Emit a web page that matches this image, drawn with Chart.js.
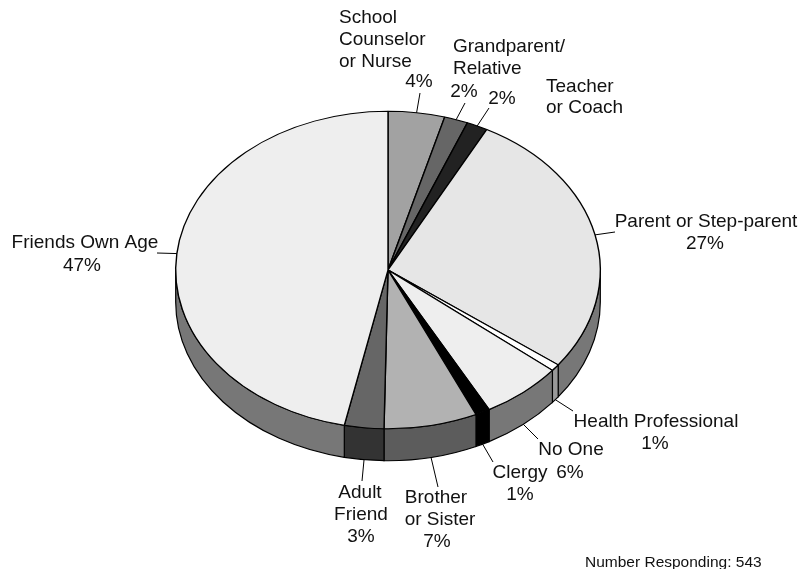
<!DOCTYPE html>
<html lang="en">
  <head>
    <meta charset="UTF-8">
    <title>Number Responding</title>
    <style>
      html, body { margin: 0; background: #fff; }
      canvas { display: block; }
    </style>
  </head>
  <body>
    <canvas id="pie" width="803" height="569"></canvas>
    <script src="https://cdn.jsdelivr.net/npm/chart.js@4"></script>
    <script>
      const categories = ['School Counselor or Nurse', 'Grandparent/ Relative', 'Teacher or Coach', 'Parent or Step-parent',
        'Health Professional', 'No One', 'Clergy', 'Brother or Sister', 'Adult Friend', 'Friends Own Age'];
      const shares = [4.3, 1.8, 1.6, 27.5, 0.7, 6.2, 1.1, 7.1, 3.0, 46.7];
      const percents = ['4%', '2%', '2%', '27%', '1%', '6%', '1%', '7%', '3%', '47%'];
      const topColors = ['#a2a2a2', '#666666', '#222222', '#e6e6e6', '#ffffff', '#eeeeee', '#000000', '#b2b2b2', '#666666', '#eeeeee'];
      const sideColors = ['#515151', '#333333', '#111111', '#777777', '#999999', '#777777', '#000000', '#5c5c5c', '#333333', '#777777'];
      const note = 'Number Responding: 543';

      // text lines per slice: [text, x, baseline, align]
      const labelLines = [
        [['School', 339, 23, 'left'], ['Counselor', 339, 45, 'left'], ['or Nurse', 339, 67, 'left'], [percents[0], 419, 87, 'center']],
        [['Grandparent/', 453, 52, 'left'], ['Relative', 453, 74, 'left'], [percents[1], 464, 97, 'center']],
        [['Teacher', 546, 92, 'left'], ['or Coach', 546, 113, 'left'], [percents[2], 502, 104, 'center']],
        [['Parent or Step-parent', 706, 227, 'center'], [percents[3], 705, 249, 'center']],
        [['Health Professional', 656, 427, 'center'], [percents[4], 655, 449, 'center']],
        [['No One', 571, 455, 'center'], [percents[5], 570, 478, 'center']],
        [['Clergy', 520, 478, 'center'], [percents[6], 520, 500, 'center']],
        [['Brother', 436, 503, 'center'], ['or Sister', 440, 525, 'center'], [percents[7], 437, 547, 'center']],
        [['Adult', 360, 498, 'center'], ['Friend', 361, 520, 'center'], [percents[8], 361, 542, 'center']],
        [['Friends Own Age', 85, 248, 'center'], [percents[9], 82, 271, 'center']]
      ];
      const leaderEnds = [[420, 93], [465, 103], [489, 108], [615, 232], [573, 411], [538, 439], [493, 462], [438, 487], [362, 481], [157, 253]];

      const squash = 158.5 / 212; // top of the pie is viewed at an angle
      const depth = 32;
      const labelFont = '19px "Liberation Sans", Arial, sans-serif';

      const pie3d = {
        id: 'pie3d',
        beforeDatasetsDraw(chart) {
          const ctx = chart.ctx;
          const arcs = chart.getDatasetMeta(0).data;
          const cx = arcs[0].x, cy = arcs[0].y;
          const r = arcs[0].outerRadius, ry = r * squash;

          // the wall, only the front half of the ellipse can be seen
          arcs.forEach((arc, i) => {
            const a = Math.max(arc.startAngle, 0);
            const b = Math.min(arc.endAngle, Math.PI);
            if (b <= a) return;
            ctx.beginPath();
            ctx.ellipse(cx, cy, r, ry, 0, a, b);
            ctx.ellipse(cx, cy + depth, r, ry, 0, b, a, true);
            ctx.closePath();
            ctx.fillStyle = sideColors[i];
            ctx.fill();
            ctx.strokeStyle = '#000';
            ctx.lineWidth = 1.2;
            ctx.stroke();
          });

          ctx.save();
          ctx.translate(cx, cy);
          ctx.scale(1, squash);
          ctx.translate(-cx, -cy);
        },
        afterDatasetsDraw(chart) {
          const ctx = chart.ctx;
          ctx.restore();

          const arcs = chart.getDatasetMeta(0).data;
          const cx = arcs[0].x, cy = arcs[0].y;
          const r = arcs[0].outerRadius, ry = r * squash;

          ctx.strokeStyle = '#000';
          ctx.lineWidth = 1;
          arcs.forEach((arc, i) => {
            const mid = (arc.startAngle + arc.endAngle) / 2;
            const sy = cy + ry * Math.sin(mid) + (Math.sin(mid) > 0 ? depth : 0);
            ctx.beginPath();
            ctx.moveTo(cx + r * Math.cos(mid), sy);
            ctx.lineTo(leaderEnds[i][0], leaderEnds[i][1]);
            ctx.stroke();
          });

          ctx.fillStyle = '#111';
          ctx.font = labelFont;
          ctx.textBaseline = 'alphabetic';
          labelLines.forEach(lines => lines.forEach(([text, x, y, align]) => {
            ctx.textAlign = align;
            ctx.fillText(text, x, y);
          }));

          ctx.font = '15.5px "Liberation Sans", Arial, sans-serif';
          ctx.textAlign = 'left';
          ctx.fillText(note, 585, 567);
        }
      };

      new Chart(document.getElementById('pie'), {
        type: 'pie',
        data: {
          labels: categories,
          datasets: [{
            data: shares,
            backgroundColor: topColors,
            borderColor: '#000',
            borderWidth: 1.4,
            hoverBorderWidth: 1.4,
            clip: false
          }]
        },
        options: {
          responsive: false,
          animation: false,
          layout: { padding: { left: 175, right: 202, top: 57, bottom: 86 } },
          plugins: {
            legend: { display: false },
            tooltip: { enabled: false }
          }
        },
        plugins: [pie3d]
      });
    </script>
  </body>
</html>
